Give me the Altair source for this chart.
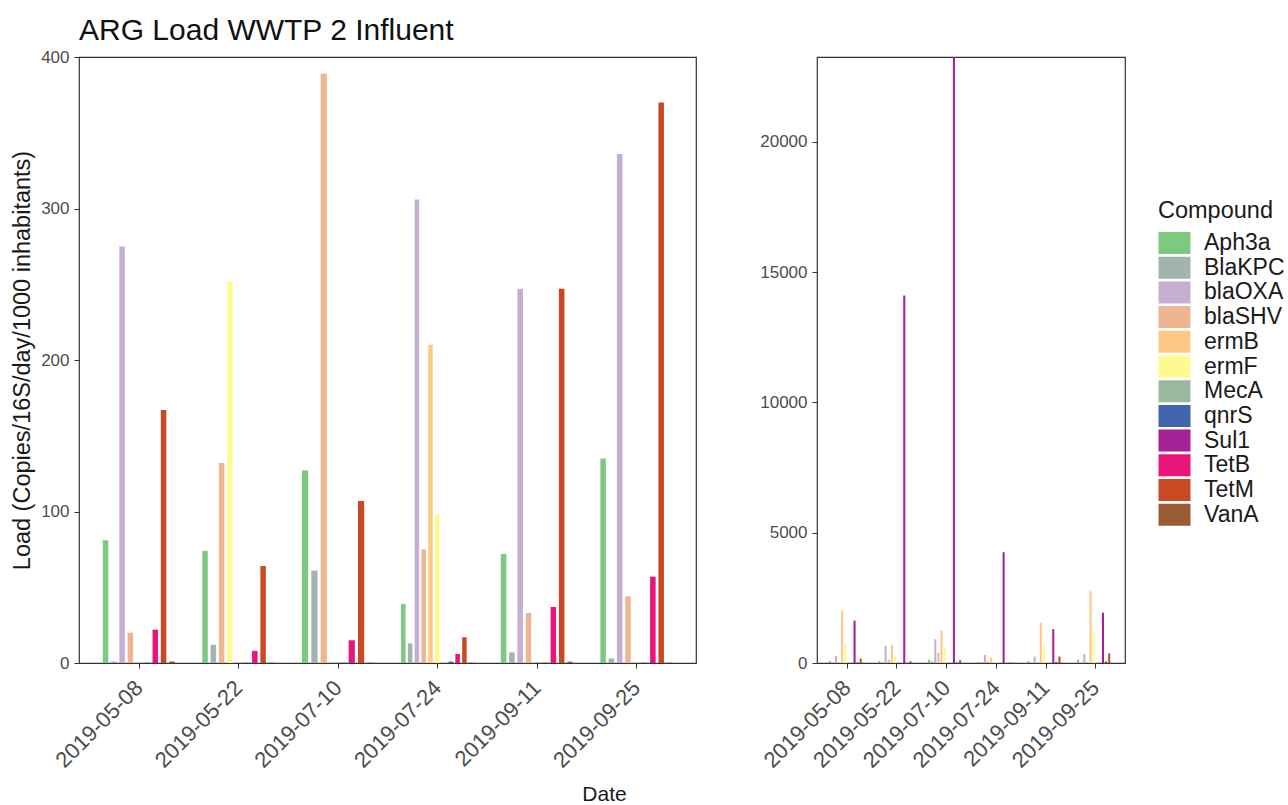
import json
import altair as alt
import pandas as pd

dates = ["2019-05-08", "2019-05-22", "2019-07-10", "2019-07-24", "2019-09-11", "2019-09-25"]
compounds = ["Aph3a", "BlaKPC", "blaOXA", "blaSHV", "ermB", "ermF",
             "MecA", "qnrS", "Sul1", "TetB", "TetM", "VanA"]
colors = ["#7DC97F", "#A2B4AD", "#C5AED0", "#EDB693", "#FDCA86", "#FEF990",
          "#9BB7A0", "#4064AE", "#A42196", "#E8157A", "#C94A22", "#9B5A36"]

Aph3a = [81, 74, 127, 39, 72, 135]
BlaKPC = [1, 12, 61, 13, 7, 3]
blaOXA = [275, 660, 910, 306, 247, 336]
blaSHV = [20, 132, 389, 75, 33, 44]
ermB = [2000, 700, 1250, 210, 1550, 2760]
ermF = [730, 252, 580, 98, 700, 1230]
MecA = [0.2, 0.2, 0.2, 0.2, 0.2, 0.2]
qnrS = [0.2, 0.2, 0.2, 0.9, 0.2, 0.2]
Sul1 = [1620, 14100, 23250, 4250, 1300, 1930]
TetB = [22, 8, 15, 6, 37, 57]
TetM = [167, 64, 107, 17, 247, 370]
VanA = [1, 0.2, 0.2, 0.2, 0.9, 0.2]

series = {"Aph3a": Aph3a, "BlaKPC": BlaKPC, "blaOXA": blaOXA, "blaSHV": blaSHV,
          "ermB": ermB, "ermF": ermF, "MecA": MecA, "qnrS": qnrS, "Sul1": Sul1,
          "TetB": TetB, "TetM": TetM, "VanA": VanA}

rows = []
for ci, c in enumerate(compounds):
    for di, d in enumerate(dates):
        rows.append({"date": d, "didx": di + 1, "compound": c, "cidx": ci,
                     "value": series[c][di]})
df = pd.DataFrame(rows)

FONT = "Liberation Sans"
GREY = "#4D4D4D"
label_expr = json.dumps(dates) + "[datum.value - 1]"
idx = list(range(1, len(dates) + 1))

color = alt.Color(
    "compound:N",
    scale=alt.Scale(domain=compounds, range=colors),
    legend=alt.Legend(
        title="Compound", orient="none", legendX=1079, legendY=142,
        symbolType="M-1,-1H1.909V1H-1Z", symbolSize=484, symbolStrokeWidth=0,
        symbolOpacity=1, labelFontSize=23, titleFontSize=23.5, labelOffset=23,
        rowPadding=0.7, titlePadding=9, labelColor="#1A1A1A",
        titleColor="#1A1A1A", titleFontWeight="normal", padding=0,
        labelFont=FONT, titleFont=FONT,
    ),
)


def dodge(ch):
    return (
        ch.transform_window(rank="row_number()", groupby=["date"],
                            sort=[alt.SortField("cidx", order="ascending")])
        .transform_joinaggregate(n="count()", groupby=["date"])
        .transform_calculate(xc="datum.didx + (datum.rank - 0.5 - datum.n / 2) * 0.75 / datum.n")
        .transform_calculate(xa="datum.xc - 0.25 / datum.n",
                             xb="datum.xc + 0.25 / datum.n")
    )


def xaxis(**kw):
    return alt.Axis(values=idx, labelExpr=label_expr, labelAngle=-45,
                    labelAlign="right", labelBaseline="middle", labelFontSize=22,
                    labelColor=GREY, labelPadding=16, tickSize=5,
                    tickColor="#333333", domain=False, grid=False,
                    labelOverlap=False, labelFont=FONT, **kw)


xscale = alt.Scale(domain=[0.4, 6.6], nice=False, zero=False)

left = dodge(alt.Chart(df).transform_filter("datum.value < 400")).mark_bar(clip=True).encode(
    x=alt.X("xa:Q", scale=xscale,
            axis=xaxis(title="Date", titleX=525, titleY=120, titleFontSize=21,
                       titleFontWeight="normal", titleColor="#1A1A1A",
                       titleFont=FONT)),
    x2="xb:Q",
    y=alt.Y("value:Q", scale=alt.Scale(domain=[0, 400], nice=False),
            axis=alt.Axis(values=[0, 100, 200, 300, 400], labelFontSize=17,
                          labelColor=GREY, tickSize=5, tickColor="#333333",
                          labelPadding=5, domain=False, grid=False,
                          title="Load (Copies/16S/day/1000 inhabitants)",
                          titleFontSize=23.5, titleFontWeight="normal",
                          titleColor="#1A1A1A", titlePadding=6,
                          labelFont=FONT, titleFont=FONT)),
    y2=alt.datum(0),
    color=color,
).properties(
    width=617, height=606,
    title=alt.TitleParams("ARG Load WWTP 2 Influent", anchor="start", frame="group",
                          fontSize=30, fontWeight="normal", color="#111111",
                          font=FONT, offset=2),
)

right = dodge(alt.Chart(df)).mark_bar(clip=True).encode(
    x=alt.X("xa:Q", scale=xscale, axis=xaxis(title=None)),
    x2="xb:Q",
    y=alt.Y("value:Q", scale=alt.Scale(domain=[0, 23250], nice=False),
            axis=alt.Axis(values=[0, 5000, 10000, 15000, 20000], format="d",
                          labelFontSize=17, labelColor=GREY, tickSize=5,
                          tickColor="#333333", labelPadding=5, domain=False,
                          grid=False, title=None, labelFont=FONT)),
    y2=alt.datum(0),
    color=color,
).properties(width=308, height=606)

chart = alt.hconcat(left, right, spacing=61).properties(
    padding={"left": 10, "top": 15, "right": 0, "bottom": 0}
).configure(font=FONT).configure_view(stroke="#333333", strokeWidth=1.2)

chart.save("out.html", embed_options={"renderer": "svg", "actions": False})
